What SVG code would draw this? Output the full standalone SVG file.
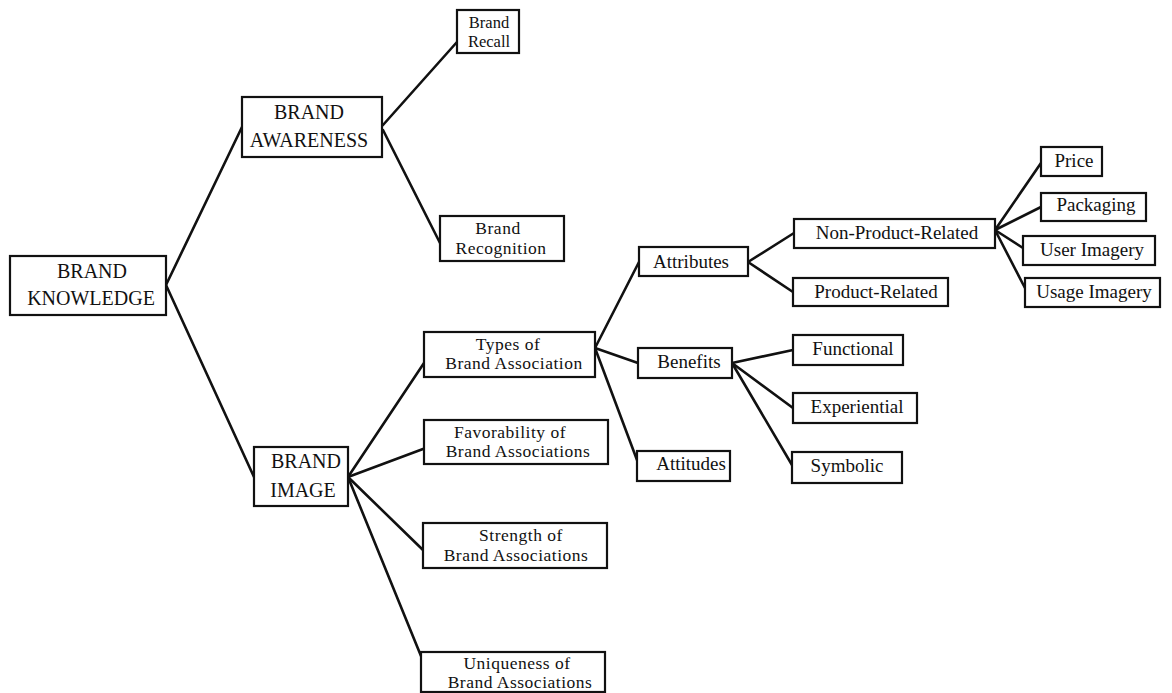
<svg xmlns="http://www.w3.org/2000/svg" width="1172" height="693" viewBox="0 0 1172 693" font-family="'Liberation Serif', 'DejaVu Serif', serif">
<style>
rect{fill:#fff;stroke:#111;stroke-width:2.2}
text{font-family:'Liberation Serif','Times New Roman','DejaVu Serif',serif;font-size:19px;fill:#111;text-anchor:middle}
.cap{font-size:20px}
.two{font-size:17.5px;letter-spacing:0.5px}
.sm{font-size:16.5px}
#connectors line{stroke:#111;stroke-width:2.6;stroke-linecap:round}
</style>
<rect x="0" y="0" width="1172" height="693" style="fill:#fff;stroke:none"/>
<g id="connectors">
<line x1="166" y1="285" x2="242" y2="127"/>
<line x1="166" y1="285" x2="254" y2="477"/>
<line x1="383" y1="125" x2="457" y2="42"/>
<line x1="383" y1="130" x2="440" y2="243"/>
<line x1="348" y1="477" x2="424" y2="363"/>
<line x1="348" y1="477" x2="423" y2="449"/>
<line x1="348" y1="477" x2="423" y2="550"/>
<line x1="348" y1="477" x2="421" y2="656"/>
<line x1="595" y1="348" x2="639" y2="262"/>
<line x1="595" y1="348" x2="638" y2="363"/>
<line x1="595" y1="348" x2="637" y2="460"/>
<line x1="748" y1="262" x2="794" y2="233"/>
<line x1="748" y1="262" x2="793" y2="292"/>
<line x1="732" y1="363" x2="793" y2="350"/>
<line x1="732" y1="363" x2="793" y2="408"/>
<line x1="732" y1="363" x2="792" y2="465"/>
<line x1="995" y1="230" x2="1041" y2="163"/>
<line x1="995" y1="230" x2="1041" y2="207"/>
<line x1="995" y1="230" x2="1023" y2="248"/>
<line x1="995" y1="230" x2="1025" y2="288"/>
</g>
<g id="brand-knowledge"><rect x="10" y="256" width="156" height="59"/><text class="cap" x="92" y="278">BRAND</text><text class="cap" x="91" y="305">KNOWLEDGE</text></g>
<g id="brand-awareness"><rect x="242" y="97" width="140" height="60"/><text class="cap" x="309" y="119">BRAND</text><text class="cap" x="309" y="147">AWARENESS</text></g>
<g id="brand-recall"><rect x="457" y="10" width="62" height="43"/><text class="sm" x="489" y="28">Brand</text><text class="sm" x="489" y="46.5">Recall</text></g>
<g id="brand-recognition"><rect x="440" y="216" width="124" height="45"/><text class="two" x="498" y="234">Brand</text><text class="two" x="501" y="253.5">Recognition</text></g>
<g id="brand-image"><rect x="254" y="447" width="94" height="59"/><text class="cap" x="306" y="468">BRAND</text><text class="cap" x="303" y="497">IMAGE</text></g>
<g id="types"><rect x="424" y="332" width="171" height="45"/><text class="two" x="508" y="349.5">Types of</text><text class="two" x="514" y="369">Brand Association</text></g>
<g id="favorability"><rect x="424" y="420" width="184" height="44"/><text class="two" x="510" y="437.5">Favorability of</text><text class="two" x="518" y="457">Brand Associations</text></g>
<g id="strength"><rect x="423" y="523" width="184" height="45"/><text class="two" x="521" y="541">Strength of</text><text class="two" x="516" y="560.5">Brand Associations</text></g>
<g id="uniqueness"><rect x="421" y="652" width="184" height="40"/><text class="two" x="517" y="668.5">Uniqueness of</text><text class="two" x="520" y="688">Brand Associations</text></g>
<g id="attributes"><rect x="639" y="247" width="109" height="29"/><text x="691" y="268">Attributes</text></g>
<g id="non-product-related"><rect x="794" y="219" width="201" height="29"/><text x="897" y="239">Non-Product-Related</text></g>
<g id="product-related"><rect x="793" y="278" width="155" height="28"/><text x="876" y="298">Product-Related</text></g>
<g id="benefits"><rect x="638" y="348" width="94" height="30"/><text x="689" y="368">Benefits</text></g>
<g id="attitudes"><rect x="637" y="451" width="93" height="30"/><text x="691" y="470">Attitudes</text></g>
<g id="functional"><rect x="793" y="335" width="110" height="30"/><text x="853" y="355">Functional</text></g>
<g id="experiential"><rect x="793" y="393" width="124" height="30"/><text x="857" y="413">Experiential</text></g>
<g id="symbolic"><rect x="792" y="452" width="110" height="31"/><text x="847" y="472">Symbolic</text></g>
<g id="price"><rect x="1041" y="147" width="61" height="29"/><text x="1074" y="167">Price</text></g>
<g id="packaging"><rect x="1041" y="193" width="105" height="28"/><text x="1096" y="211">Packaging</text></g>
<g id="user-imagery"><rect x="1023" y="236" width="132" height="29"/><text x="1092" y="256">User Imagery</text></g>
<g id="usage-imagery"><rect x="1025" y="278" width="135" height="29"/><text x="1094" y="298">Usage Imagery</text></g>
</svg>
